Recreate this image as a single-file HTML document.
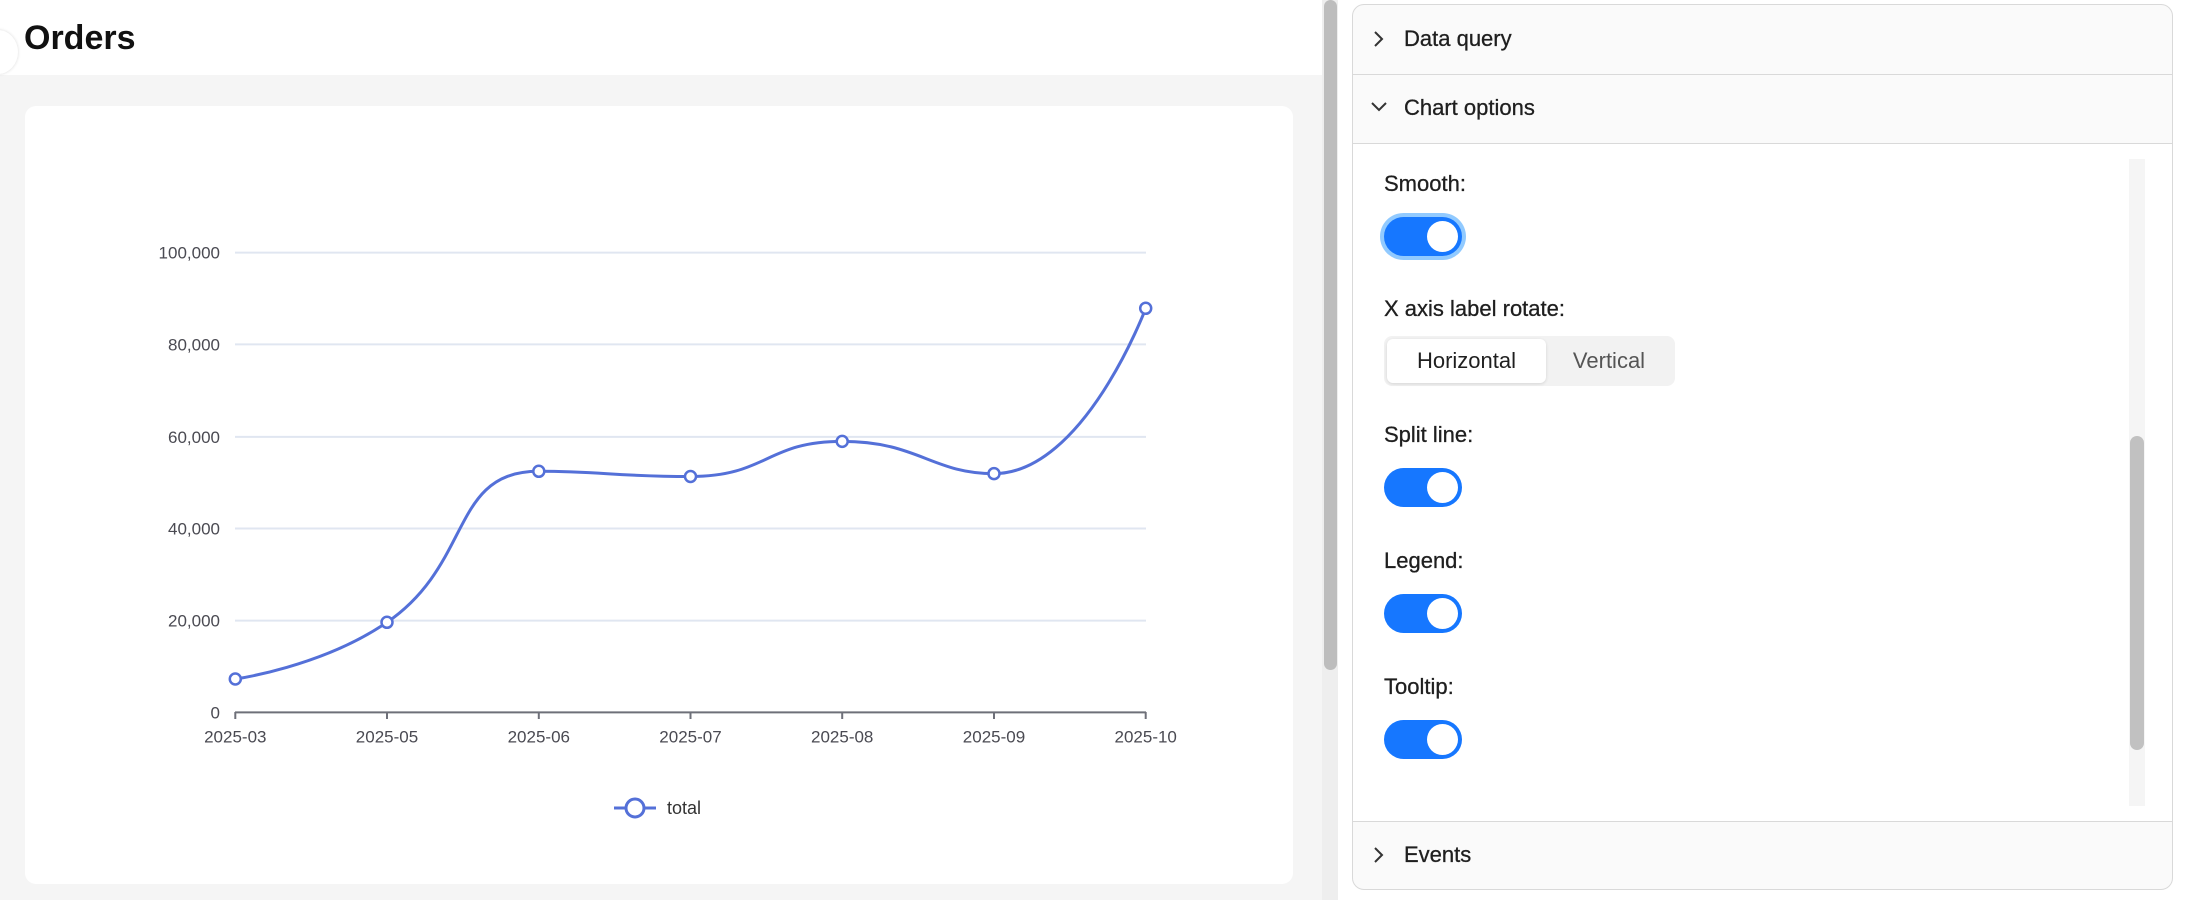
<!DOCTYPE html>
<html><head><meta charset="utf-8"><style>
*{box-sizing:border-box;margin:0;padding:0}
body{width:2192px;height:900px;background:#fff;font-family:"Liberation Sans",sans-serif;position:relative;overflow:hidden;color:#1f1f1f}
.abs{position:absolute}
.tog{position:absolute;left:1384px;width:78px;height:39px;border-radius:20px;background:#1677ff}
.tog::after{content:"";position:absolute;right:4px;top:4px;width:31px;height:31px;border-radius:50%;background:#fff}
.lbl{position:absolute;left:1384px;font-size:22px;line-height:26px;color:#1f1f1f;-webkit-text-stroke:0.3px #1f1f1f}
.hd{position:absolute;left:1404px;font-size:22px;line-height:26px;-webkit-text-stroke:0.3px #1f1f1f}
</style></head><body>
<div class="abs" style="left:0;top:75px;width:1322px;height:825px;background:#f5f5f5"></div>
<div class="abs" style="left:-22px;top:30px;width:40px;height:44px;border-radius:50%;background:#fff;box-shadow:0 0 3px rgba(0,0,0,.15)"></div>
<div class="abs" style="left:24px;top:18px;font-size:34px;font-weight:bold;line-height:40px;color:#111">Orders</div>
<div class="abs" style="left:25px;top:106px;width:1268px;height:778px;background:#fff;border-radius:11px"></div>
<div class="abs" style="left:1322px;top:0;width:16px;height:900px;background:#eee"></div>
<div class="abs" style="left:1324px;top:0;width:13px;height:670px;background:#bdbdbd;border-radius:7px"></div>

<svg class="abs" style="left:0;top:0" width="1320" height="900">
<g stroke="#e0e6f1" stroke-width="2">
<line x1="235" y1="252.6" x2="1146" y2="252.6"/><line x1="235" y1="344.4" x2="1146" y2="344.4"/>
<line x1="235" y1="436.9" x2="1146" y2="436.9"/><line x1="235" y1="528.5" x2="1146" y2="528.5"/>
<line x1="235" y1="620.6" x2="1146" y2="620.6"/></g>
<g stroke="#6e7079" stroke-width="2"><line x1="235" y1="712.4" x2="1146" y2="712.4"/>
<line x1="235.3" y1="712" x2="235.3" y2="719"/><line x1="387" y1="712" x2="387" y2="719"/><line x1="538.8" y1="712" x2="538.8" y2="719"/><line x1="690.5" y1="712" x2="690.5" y2="719"/><line x1="842.2" y1="712" x2="842.2" y2="719"/><line x1="994" y1="712" x2="994" y2="719"/><line x1="1145.7" y1="712" x2="1145.7" y2="719"/></g>
<g font-family="Liberation Sans" font-size="17" fill="#4a4a52" text-anchor="end">
<text x="220" y="258.6">100,000</text><text x="220" y="350.4">80,000</text><text x="220" y="442.9">60,000</text><text x="220" y="534.5">40,000</text><text x="220" y="626.6">20,000</text><text x="220" y="718.4">0</text></g>
<g font-family="Liberation Sans" font-size="17" fill="#4a4a52" text-anchor="middle">
<text x="235.3" y="742.5">2025-03</text><text x="387" y="742.5">2025-05</text><text x="538.8" y="742.5">2025-06</text><text x="690.5" y="742.5">2025-07</text><text x="842.2" y="742.5">2025-08</text><text x="994" y="742.5">2025-09</text><text x="1145.7" y="742.5">2025-10</text></g>
<path d="M235.3,679 C235.3,679 321.6,667 387,622.3 C473.4,563.2 450,471.3 538.8,471.3 C601.8,471.3 615.5,476.5 690.5,476.5 C767.5,476.5 766,441.4 842.2,441.4 C918,441.4 932,473.6 994,473.6 C1083.7,473.6 1145.7,308.3 1145.7,308.3" fill="none" stroke="#5470d8" stroke-width="3"/>
<g fill="#fff" stroke="#5470d8" stroke-width="2.5">
<circle cx="235.3" cy="679" r="5.5"/><circle cx="387" cy="622.3" r="5.5"/><circle cx="538.8" cy="471.3" r="5.5"/><circle cx="690.5" cy="476.5" r="5.5"/><circle cx="842.2" cy="441.4" r="5.5"/><circle cx="994" cy="473.6" r="5.5"/><circle cx="1145.7" cy="308.3" r="5.5"/></g>
<line x1="614" y1="808" x2="656" y2="808" stroke="#5470d8" stroke-width="3"/>
<circle cx="635" cy="808" r="9" fill="#fff" stroke="#5470d8" stroke-width="3"/>
<text x="667" y="814" font-family="Liberation Sans" font-size="18" fill="#333">total</text>
</svg>

<div class="abs" style="left:1352px;top:4px;width:821px;height:886px;border:1px solid #d9d9d9;border-radius:12px;background:#fafafa;overflow:hidden">
 <div class="abs" style="left:0;top:69px;width:821px;height:1px;background:#d9d9d9"></div>
 <div class="abs" style="left:0;top:138px;width:821px;height:679px;background:#fff;border-top:1px solid #d9d9d9;border-bottom:1px solid #d9d9d9"></div>
 <div class="abs" style="left:776px;top:154px;width:16px;height:647px;background:#f5f5f5"></div>
 <div class="abs" style="left:777px;top:431px;width:14px;height:314px;background:#c1c1c1;border-radius:7px"></div>
</div>
<svg class="abs" style="left:1370px;top:30px" width="18" height="18"><path d="M5,2 L12,9 L5,16" fill="none" stroke="#333" stroke-width="2"/></svg>
<div class="hd" style="top:26px">Data query</div>
<svg class="abs" style="left:1370px;top:100px" width="18" height="14"><path d="M2,3 L9,10 L16,3" fill="none" stroke="#333" stroke-width="2"/></svg>
<div class="hd" style="top:95px">Chart options</div>
<svg class="abs" style="left:1370px;top:846px" width="18" height="18"><path d="M5,2 L12,9 L5,16" fill="none" stroke="#333" stroke-width="2"/></svg>
<div class="hd" style="top:842px">Events</div>

<div class="lbl" style="top:171px">Smooth:</div>
<div class="tog" style="top:217px;box-shadow:0 0 0 4px #91caff"></div>
<div class="lbl" style="top:296px">X axis label rotate:</div>
<div class="abs" style="left:1384px;top:336px;width:291px;height:50px;background:#f2f2f2;border-radius:8px"></div>
<div class="abs" style="left:1387px;top:339px;width:159px;height:44px;background:#fff;border-radius:6px;box-shadow:0 1px 3px rgba(0,0,0,.12);font-size:22px;line-height:44px;text-align:center">Horizontal</div>
<div class="abs" style="left:1546px;top:339px;width:126px;height:44px;font-size:22px;line-height:44px;text-align:center;color:#555">Vertical</div>
<div class="lbl" style="top:422px">Split line:</div>
<div class="tog" style="top:468px"></div>
<div class="lbl" style="top:548px">Legend:</div>
<div class="tog" style="top:594px"></div>
<div class="lbl" style="top:674px">Tooltip:</div>
<div class="tog" style="top:720px"></div>
<div class="abs" style="left:1384px;top:790px;width:200px;height:15px;overflow:hidden"><div style="font-size:22px;line-height:26px;margin-top:12px">Label:</div></div>
</body></html>
